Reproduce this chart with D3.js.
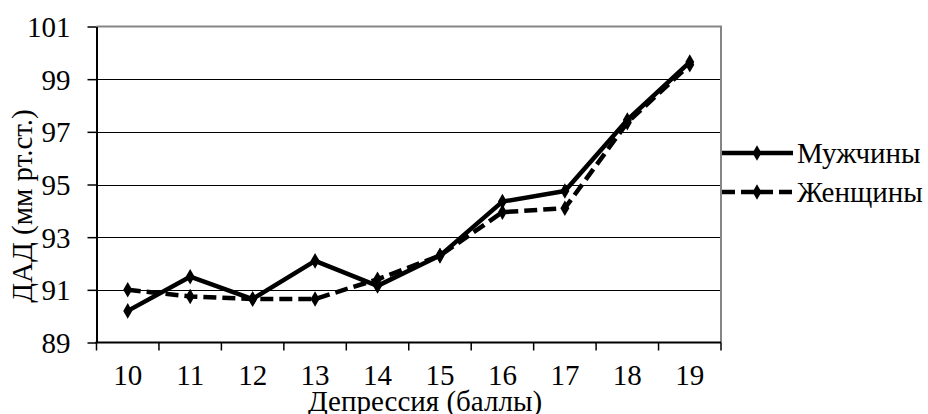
<!DOCTYPE html>
<html>
<head>
<meta charset="utf-8">
<script src="https://cdn.jsdelivr.net/npm/d3@7"></script>
<style>
  html, body { margin: 0; padding: 0; background: #fff; }
  svg { display: block; }
</style>
</head>
<body>
<svg id="chart" width="928" height="414"></svg>
<script>
const categories = ["10", "11", "12", "13", "14", "15", "16", "17", "18", "19"];
const maleValues = [90.2, 91.5, 90.65, 92.1, 91.15, 92.3, 94.35, 94.75, 97.45, 99.65];
const femaleValues = [91.0, 90.75, 90.65, 90.65, 91.4, 92.3, 93.95, 94.1, 97.35, 99.55];
const yTickValues = [89, 91, 93, 95, 97, 99, 101];
const seriesNames = ["Мужчины", "Женщины"];
const xTitle = "Депрессия (баллы)";
const yTitle = "ДАД (мм рт.ст.)";

(function () {
const svg = d3.select("#chart");
const pLeft = 96.5, pRight = 721, pTop = 26.5, pBottom = 342.5;
const FONT = "'Liberation Serif', serif";
const fontSize = 29;
const styleText = sel => sel.style("font-family", FONT).style("font-size", fontSize + "px").style("fill", "#000");

const x = d3.scaleBand().domain(categories).range([pLeft, pRight]).padding(0);
const y = d3.scaleLinear().domain([89, 101]).range([pBottom, pTop]);
const cx = c => x(c) + x.bandwidth() / 2;

// gridlines
svg.append("g").selectAll("line")
  .data(yTickValues.filter(v => v !== 89 && v !== 101))
  .join("line")
  .attr("x1", pLeft).attr("x2", pRight)
  .attr("y1", d => Math.round(y(d)) + 0.5).attr("y2", d => Math.round(y(d)) + 0.5)
  .attr("stroke", "#000").attr("stroke-width", 1);

// plot border top & right (gray)
svg.append("path")
  .attr("d", `M${pLeft},${y(101)}H${pRight}V${pBottom}`)
  .attr("fill", "none").attr("stroke", "#858585").attr("stroke-width", 2);

// y axis
const yAxis = svg.append("g")
  .attr("transform", `translate(${pLeft},0)`)
  .call(d3.axisLeft(y).tickValues(yTickValues).tickSize(9).tickPadding(17).tickSizeOuter(0).tickFormat(d3.format("d")));
yAxis.select(".domain").attr("stroke", "#000").attr("stroke-width", 2);
yAxis.selectAll(".tick line").attr("stroke", "#000").attr("stroke-width", 1.5);
yAxis.selectAll(".tick text").call(styleText).attr("dy", "0.34em");

// x axis
const xAxis = svg.append("g")
  .attr("transform", `translate(0,${pBottom})`)
  .call(d3.axisBottom(x).tickSize(0).tickPadding(0).tickSizeOuter(0));
xAxis.select(".domain").remove();
xAxis.append("line").attr("x1", pLeft - 1).attr("x2", pRight).attr("y1", 0).attr("y2", 0)
  .attr("stroke", "#000").attr("stroke-width", 2);
xAxis.selectAll(".tick text").call(styleText).attr("y", 42.5).attr("dy", 0);
xAxis.selectAll(".edge")
  .data(categories.map(c => x(c)).concat([pRight]))
  .join("line").attr("class", "edge")
  .attr("x1", d => d).attr("x2", d => d).attr("y1", 0).attr("y2", 8)
  .attr("stroke", "#000").attr("stroke-width", 1.5);

// titles
svg.append("text").attr("x", 425).attr("y", 411).attr("text-anchor", "middle")
  .call(styleText).text(xTitle);
svg.append("text").attr("transform", `translate(32,206) rotate(-90)`)
  .attr("text-anchor", "middle").call(styleText).text(yTitle);

// series
const lineGen = d3.line().x((d, i) => cx(categories[i])).y(d => y(d));
const diamond = d3.symbol().type(d3.symbolDiamond).size(70);
const series = [
  { name: seriesNames[0], values: maleValues, dash: null },
  { name: seriesNames[1], values: femaleValues, dash: "13,6" }
];

series.forEach(s => {
  svg.append("path").datum(s.values)
    .attr("d", lineGen)
    .attr("fill", "none").attr("stroke", "#000").attr("stroke-width", 4.5)
    .attr("stroke-linejoin", "round")
    .attr("stroke-dasharray", s.dash);
  svg.append("g").selectAll("path").data(s.values).join("path")
    .attr("d", diamond)
    .attr("transform", (d, i) => `translate(${cx(categories[i])},${y(d)})`)
    .attr("fill", "#000");
});

// legend
const legendY = [153, 192];
series.forEach((s, i) => {
  const g = svg.append("g").attr("transform", `translate(0,${legendY[i]})`);
  g.append("line").attr("x1", 722).attr("x2", 793).attr("y1", 0).attr("y2", 0)
    .attr("stroke", "#000").attr("stroke-width", 4.5).attr("stroke-dasharray", s.dash);
  g.append("path").attr("d", diamond).attr("transform", "translate(757,0)").attr("fill", "#000");
  g.append("text").attr("x", 797).attr("y", 0).attr("dy", "0.34em")
    .call(styleText).text(s.name);
});
})();
</script>
</body>
</html>
